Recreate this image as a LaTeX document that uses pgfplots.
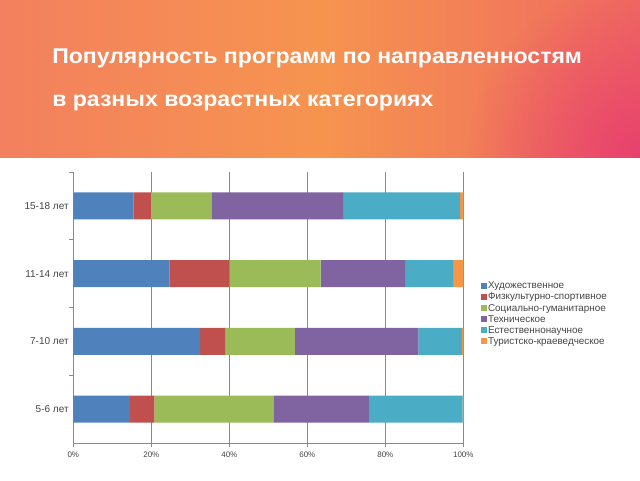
\documentclass[border=0pt]{standalone}
\usepackage{pgfplots}
\pgfplotsset{compat=1.18}
\usetikzlibrary{fadings}
\usepackage{fontspec}
\setmainfont{Liberation Sans}
\definecolor{c1}{HTML}{4F81BD}
\definecolor{c2}{HTML}{C0504D}
\definecolor{c3}{HTML}{9BBB59}
\definecolor{c4}{HTML}{8064A2}
\definecolor{c5}{HTML}{4BACC6}
\definecolor{c6}{HTML}{F79646}
\definecolor{hl}{HTML}{F3805E}
\definecolor{hm}{HTML}{F6944F}
\definecolor{hr}{HTML}{EF6A60}
\definecolor{hp}{HTML}{E8406E}
\definecolor{gridc}{HTML}{8A8A8A}
\definecolor{txt}{HTML}{454545}
\tikzfading[name=myfade, inner color=transparent!0, outer color=transparent!100]
\begin{document}
\begin{tikzpicture}
\fill[white] (0,0) rectangle (480pt,360pt);
\shade[left color=hl, right color=hr, middle color=hm] (0,242.25pt) rectangle (480pt,360pt);
\begin{scope}
\clip (0,242.25pt) rectangle (480pt,360pt);
\fill[hp, path fading=myfade] (480pt,242.25pt) circle (130pt);
\end{scope}
\node[anchor=base west, inner sep=0, text=white, xscale=1.08, font=\bfseries\fontsize{16}{18}\selectfont] at (39pt,312.75pt) {Популярность программ по направленностям};
\node[anchor=base west, inner sep=0, text=white, xscale=1.08, font=\bfseries\fontsize{16}{18}\selectfont] at (39pt,280.5pt) {в разных возрастных категориях};
\begin{axis}[
  at={(55pt,27.75pt)}, anchor=south west,
  scale only axis, width=292.5pt, height=203.25pt,
  xbar stacked, bar width=20.25pt,
  xmin=0, xmax=100, ymin=-0.5, ymax=3.5,
  xtick={0,20,40,60,80,100},
  xticklabels={0\%,20\%,40\%,60\%,80\%,100\%},
  ytick={0,1,2,3},
  yticklabels={5-6 лет,7-10 лет,11-14 лет,15-18 лет},
  minor ytick={0.5,1.5,2.5,3.5},
  axis x line*=bottom, axis y line*=left,
  axis line style={gridc, line width=0.6pt},
  xmajorgrids, major grid style={gridc, line width=0.6pt},
  major tick length=3pt, minor tick length=3pt,
  tick align=outside,
  major y tick style={draw=none},
  minor y tick style={gridc, line width=0.6pt},
  major x tick style={gridc, line width=0.6pt},
  tick label style={font=\fontsize{7.5}{8}\selectfont, text=txt},
  yticklabel style={xshift=3pt},
  xticklabel style={font=\fontsize{6}{7}\selectfont},
  /pgf/number format/assume math mode=true,
  legend style={at={(1.035,0.61)}, anchor=north west, draw=none, fill=none,
    font=\fontsize{7.4}{8}\selectfont, text=txt,
    nodes={inner sep=0.6pt, text height=5.6pt, text depth=1.5pt, anchor=west},
    row sep=0pt},
  legend cell align=left,
  legend image code/.code={\fill[#1] (0pt,-2pt) rectangle (4.5pt,2.5pt);},
]
\addplot[fill=c1, draw=none] coordinates {(14.5,0) (32.5,1) (24.6,2) (15.4,3)};
\addplot[fill=c2, draw=none] coordinates {(6.3,0) (6.4,1) (15.4,2) (4.5,3)};
\addplot[fill=c3, draw=none] coordinates {(30.5,0) (17.9,1) (23.4,2) (15.5,3)};
\addplot[fill=c4, draw=none] coordinates {(24.5,0) (31.7,1) (21.7,2) (33.8,3)};
\addplot[fill=c5, draw=none] coordinates {(24.0,0) (11.1,1) (12.3,2) (30.0,3)};
\addplot[fill=c6, draw=none] coordinates {(0.2,0) (0.4,1) (2.6,2) (0.8,3)};
\legend{Художественное,Физкультурно-спортивное,Социально-гуманитарное,Техническое,Естественнонаучное,Туристско-краеведческое}
\end{axis}
\end{tikzpicture}
\end{document}
